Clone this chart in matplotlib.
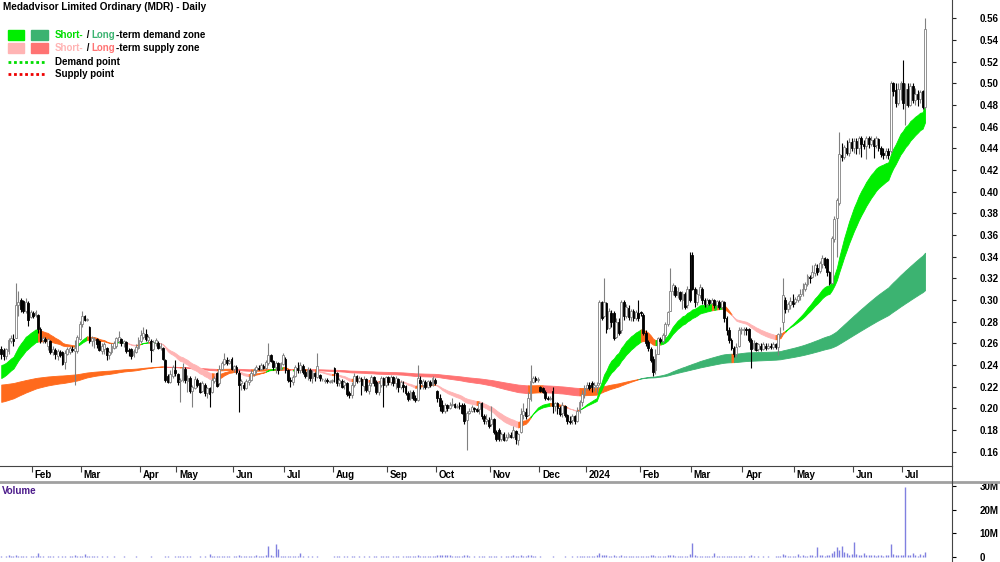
import numpy as np
import matplotlib
matplotlib.use("Agg")
import matplotlib.pyplot as plt
from matplotlib.lines import Line2D
from matplotlib.patches import Rectangle

plt.rcParams['font.family'] = ['Liberation Sans', 'DejaVu Sans']

# months shown on the x axis (first one is the partial Jan 2023, not labelled)
month_names = ["", "Feb", "Mar", "Apr", "May", "Jun", "Jul", "Aug", "Sep", "Oct",
               "Nov", "Dec", "2024", "Feb", "Mar", "Apr", "May", "Jun", "Jul"]
month_counts = [13, 20, 24, 15, 23, 21, 20, 22, 20, 22, 20, 19, 22, 21, 21, 21, 24, 20, 10]

# daily prices in cents
opens = [
    25.5, 25.4, 24.8, 25.3, 26.2, 26.4, 26.5, 29.5, 30.0, 29.9, 29.0, 29.7, 28.4,
    28.8, 28.6, 28.6, 27.3, 26.3, 26.4, 25.8, 26.2, 25.2, 25.4, 24.8, 25.2, 25.2, 24.3, 25.0, 25.2, 25.5, 25.3, 25.3, 26.4,
    27.8, 28.5, 28.2, 27.5, 26.2, 26.3, 26.4, 26.2, 25.3, 25.5, 25.6, 24.9, 25.2, 25.6, 25.8, 26.2, 26.4, 26.0, 26.1, 25.4, 25.5, 24.9, 25.2, 25.6,
    26.2, 26.6, 26.9, 26.3, 26.2, 25.5, 26.0, 26.0, 25.6, 25.6, 24.5, 23.0, 22.4, 23.0, 23.5,
    23.2, 22.5, 22.6, 23.6, 22.5, 22.8, 21.6, 21.9, 22.6, 22.3, 21.6, 22.2, 21.4, 21.9, 21.5, 22.5, 23.3, 22.3, 23.6, 24.1, 24.5, 24.2, 24.6,
    23.6, 23.8, 23.3, 22.3, 22.2, 21.9, 22.4, 22.6, 23.2, 23.5, 23.7, 23.6, 23.9, 23.7, 24.2, 24.9, 24.4, 23.8, 24.2, 23.6, 24.1,
    24.6, 23.5, 22.6, 22.4, 23.0, 23.7, 23.5, 23.9, 23.4, 23.0, 23.5, 22.8, 23.3, 22.9, 23.1, 22.7, 22.5, 22.6, 22.4, 22.5,
    23.7, 23.3, 22.3, 22.5, 22.2, 22.3, 21.4, 21.2, 22.2, 23.0, 22.5, 22.7, 22.1, 22.7, 21.6, 22.3, 22.9, 22.4, 21.5, 22.2, 22.8, 22.2,
    22.9, 22.4, 22.9, 22.3, 22.7, 22.0, 22.2, 22.1, 21.4, 21.0, 21.5, 21.0, 20.8, 22.6, 22.2, 22.4, 22.0, 22.4, 22.2, 22.6,
    21.6, 21.0, 20.3, 19.8, 20.3, 20.0, 20.3, 20.4, 20.1, 20.3, 20.3, 20.3, 18.9, 19.6, 19.8, 20.0, 19.9, 19.9, 20.5, 19.3, 18.8, 18.9,
    18.6, 19.0, 17.8, 18.0, 17.2, 17.6, 17.1, 17.4, 17.5, 17.4, 17.9, 17.1, 17.8, 19.4, 19.7, 19.4, 20.9, 22.4, 22.8, 22.6,
    22.0, 21.9, 21.5, 21.0, 20.9, 21.6, 20.2, 20.5, 20.0, 19.6, 20.2, 19.4, 18.8, 18.9, 19.3, 18.8, 19.8, 20.6, 21.3,
    21.9, 22.2, 22.3, 22.0, 22.0, 22.3, 29.8, 28.5, 29.7, 27.4, 28.8, 28.8, 26.6, 28.0, 27.2, 29.8, 28.5, 29.3, 28.4, 29.0, 28.3, 28.8,
    28.9, 28.6, 27.0, 26.1, 25.5, 24.6, 23.5, 25.0, 26.4, 26.2, 26.8, 27.8, 29.0, 30.8, 31.2, 30.5, 30.7, 30.0, 30.6, 29.5, 31.0,
    34.2, 31.0, 29.8, 30.5, 31.0, 30.0, 29.6, 30.0, 29.7, 30.0, 29.5, 29.8, 29.4, 29.8, 28.3, 27.2, 26.3, 25.6, 25.0, 25.8, 27.2,
    27.2, 27.3, 27.3, 26.3, 25.6, 26.0, 25.5, 25.8, 25.5, 25.8, 25.6, 25.8, 25.7, 25.9, 25.7, 26.8, 28.0, 30.0, 29.2, 29.5, 29.9,
    29.8, 30.0, 30.4, 30.6, 31.0, 31.5, 32.1, 32.1, 32.5, 33.0, 32.7, 33.3, 33.9, 33.8, 32.6, 31.6, 35.6, 37.6, 39.0, 43.4, 43.2, 44.0, 43.6, 44.6,
    44.0, 44.7, 44.0, 45.0, 44.4, 44.2, 45.0, 44.4, 44.8, 44.3, 44.9, 44.0, 43.6, 43.4, 43.8, 43.8, 50.0, 49.4, 48.2, 49.5,
    50.0, 48.0, 49.5, 48.0, 49.8, 48.5, 49.0, 48.6, 49.3, 47.8,
]
highs = [
    25.8, 25.6, 25.6, 26.5, 26.8, 26.9, 31.6, 30.8, 30.2, 30.0, 30.2, 29.9, 29.1,
    29.0, 29.1, 28.7, 27.5, 26.7, 26.6, 26.5, 26.3, 25.8, 25.6, 25.5, 25.4, 25.3, 25.4, 25.7, 25.8, 25.8, 26.3, 26.8, 28.1,
    29.0, 28.6, 28.3, 27.6, 26.7, 26.6, 26.5, 26.3, 26.0, 26.1, 25.7, 25.3, 26.0, 26.2, 26.6, 27.1, 26.5, 26.3, 26.2, 25.6, 25.6, 25.5, 25.9, 26.6,
    27.2, 27.5, 27.3, 26.8, 26.4, 26.3, 26.5, 26.2, 26.0, 25.7, 24.6, 23.2, 23.5, 24.0, 24.5,
    23.3, 22.8, 24.2, 23.8, 23.1, 23.0, 22.2, 23.0, 22.8, 22.4, 22.5, 22.3, 22.0, 22.0, 22.8, 23.0, 23.4, 24.0, 24.4, 25.1, 24.7, 24.6, 24.7,
    24.0, 24.0, 23.5, 22.7, 22.4, 22.7, 23.0, 23.5, 23.7, 24.0, 24.0, 24.2, 24.1, 24.5, 26.0, 25.0, 24.5, 24.4, 24.3, 24.3, 25.1,
    24.7, 23.6, 22.9, 23.1, 24.0, 24.3, 24.3, 24.1, 23.6, 23.8, 23.7, 23.5, 23.4, 25.1, 23.2, 22.8, 22.8, 22.8, 22.6, 22.7,
    23.8, 23.4, 22.8, 22.7, 22.6, 22.4, 21.6, 22.4, 23.3, 23.1, 23.0, 22.9, 23.0, 22.8, 22.4, 23.1, 23.0, 22.6, 22.5, 23.0, 22.9, 23.0,
    23.0, 23.1, 23.0, 23.0, 22.8, 22.6, 22.5, 22.2, 21.6, 21.7, 21.7, 21.2, 24.0, 23.0, 22.7, 22.6, 22.6, 22.6, 23.0, 22.8,
    21.7, 21.3, 20.8, 20.5, 20.4, 20.6, 21.0, 20.5, 20.4, 20.6, 20.5, 20.5, 19.8, 20.0, 20.3, 20.1, 20.0, 20.6, 20.6, 19.5, 19.5, 19.2,
    20.2, 19.1, 18.0, 18.2, 17.8, 17.8, 17.6, 17.8, 17.8, 18.4, 18.0, 17.7, 20.0, 20.5, 20.0, 21.5, 24.0, 23.0, 23.0, 22.9,
    22.1, 22.0, 21.7, 21.1, 21.1, 22.0, 20.6, 20.6, 20.2, 20.6, 20.3, 19.5, 19.3, 19.5, 19.4, 20.1, 20.8, 21.7, 22.2,
    22.4, 22.4, 22.5, 22.4, 22.4, 30.0, 29.9, 32.0, 29.8, 29.3, 29.1, 29.0, 28.3, 28.3, 30.0, 30.0, 29.6, 29.5, 29.2, 29.2, 29.1, 30.0,
    29.0, 28.8, 27.2, 26.3, 25.7, 24.8, 25.5, 26.6, 26.6, 27.0, 28.0, 29.0, 33.0, 31.6, 31.4, 31.2, 30.8, 30.8, 30.7, 31.3, 34.4,
    34.4, 31.2, 31.0, 31.5, 31.2, 30.2, 30.2, 30.1, 30.2, 30.1, 30.0, 30.0, 30.0, 29.9, 28.5, 27.5, 26.5, 25.8, 26.0, 27.5, 27.5,
    27.5, 27.5, 27.4, 26.5, 26.3, 26.1, 26.0, 26.0, 26.1, 26.0, 26.0, 26.0, 26.1, 26.0, 27.0, 27.5, 32.0, 30.3, 29.8, 30.3, 30.6,
    30.3, 30.6, 31.0, 31.6, 31.7, 32.4, 32.3, 33.2, 33.4, 33.3, 33.6, 34.2, 34.0, 33.9, 32.7, 35.9, 37.8, 39.4, 45.5, 44.5, 44.3, 44.8, 45.0, 45.0,
    45.0, 45.0, 45.1, 45.1, 44.8, 45.1, 45.1, 45.1, 45.0, 45.1, 45.0, 44.2, 44.0, 44.0, 44.0, 50.2, 50.1, 50.0, 50.0, 50.2,
    52.2, 50.0, 50.0, 50.0, 50.0, 49.6, 49.4, 49.4, 49.4, 56.0,
]
lows = [
    24.6, 24.5, 24.6, 25.0, 26.0, 25.8, 26.5, 28.5, 28.9, 28.8, 28.8, 27.6, 28.3,
    28.3, 28.4, 27.0, 26.0, 26.0, 26.0, 25.4, 25.0, 24.9, 24.6, 24.5, 24.7, 24.0, 23.6, 24.9, 25.0, 25.2, 22.2, 25.1, 26.3,
    27.5, 28.1, 28.1, 26.0, 25.8, 25.6, 25.6, 25.3, 25.0, 25.0, 24.5, 24.6, 25.0, 25.5, 25.6, 26.0, 25.8, 25.7, 25.1, 24.8, 24.6, 24.7, 25.1, 25.5,
    26.0, 26.4, 26.2, 26.0, 24.3, 25.3, 25.8, 25.5, 25.4, 24.5, 22.4, 22.3, 22.3, 22.8, 23.0,
    22.2, 20.6, 22.4, 22.3, 21.5, 21.4, 20.1, 21.8, 22.0, 21.4, 21.5, 21.1, 21.0, 20.1, 21.4, 22.3, 22.0, 22.2, 23.5, 24.0, 24.0, 24.1, 23.5,
    23.4, 23.2, 19.7, 21.7, 21.7, 21.8, 22.2, 22.5, 23.0, 23.3, 23.5, 23.5, 23.6, 23.6, 24.0, 24.3, 23.5, 23.3, 23.2, 23.5, 24.0,
    23.3, 22.4, 22.0, 22.2, 22.9, 23.3, 23.3, 23.2, 22.8, 22.6, 22.5, 22.3, 22.5, 22.8, 22.5, 22.5, 22.3, 22.3, 22.3, 22.3,
    22.4, 22.1, 22.1, 21.9, 21.8, 21.1, 21.0, 21.0, 22.0, 22.3, 22.4, 21.2, 21.6, 21.5, 21.3, 22.1, 22.1, 21.3, 21.2, 22.0, 20.1, 22.0,
    22.2, 22.2, 22.1, 21.8, 21.5, 21.8, 21.5, 21.2, 20.7, 20.8, 20.8, 20.6, 20.7, 21.8, 21.8, 21.8, 21.9, 22.0, 22.1, 22.2,
    20.6, 19.8, 19.6, 19.6, 19.8, 19.9, 20.2, 20.0, 20.0, 19.9, 19.5, 18.6, 16.2, 19.5, 19.7, 19.7, 19.7, 19.5, 19.0, 18.6, 18.6, 18.2,
    18.4, 17.6, 17.0, 17.0, 17.0, 17.0, 17.0, 17.3, 17.3, 17.3, 16.7, 16.6, 17.7, 19.0, 19.0, 19.3, 20.7, 22.3, 22.4, 22.4,
    21.5, 21.4, 20.8, 20.8, 20.8, 19.6, 19.8, 19.5, 19.3, 19.2, 19.2, 18.6, 18.6, 18.6, 18.6, 18.7, 19.6, 20.2, 21.0,
    21.7, 21.7, 21.5, 21.6, 21.4, 22.2, 28.2, 28.4, 27.0, 27.3, 27.5, 26.3, 26.5, 26.8, 27.0, 28.2, 28.3, 28.2, 28.1, 28.1, 28.2, 28.1,
    28.5, 26.8, 25.8, 25.3, 24.3, 23.0, 23.2, 25.0, 26.0, 26.0, 26.5, 27.6, 29.0, 30.5, 30.3, 30.2, 29.9, 29.2, 29.2, 29.3, 29.8,
    30.9, 29.4, 29.5, 30.2, 29.6, 29.4, 29.4, 29.5, 29.6, 29.3, 29.3, 29.2, 29.2, 28.0, 26.8, 26.0, 25.4, 24.7, 24.7, 25.7, 26.9,
    26.8, 26.8, 26.1, 23.7, 25.4, 25.3, 25.3, 25.3, 25.4, 25.4, 25.5, 25.5, 25.5, 25.5, 24.9, 26.6, 27.2, 28.8, 28.9, 29.2, 29.4,
    29.6, 29.8, 30.0, 30.4, 30.8, 31.3, 31.6, 32.0, 32.2, 32.3, 32.5, 33.0, 33.0, 32.2, 31.4, 31.5, 35.4, 34.0, 38.8, 42.8, 43.0, 43.4, 43.3, 43.8,
    43.6, 43.5, 43.5, 43.2, 43.9, 43.0, 44.0, 44.2, 43.1, 44.0, 43.8, 43.2, 43.0, 43.1, 43.0, 43.6, 48.8, 47.8, 48.0, 48.5,
    47.6, 46.2, 47.8, 47.9, 48.2, 48.0, 47.9, 48.2, 47.6, 47.6,
]
closes = [
    25.0, 24.8, 25.5, 26.3, 26.5, 26.2, 29.5, 29.8, 29.2, 29.0, 29.8, 28.2, 28.9,
    28.5, 28.9, 27.3, 26.2, 26.5, 26.2, 26.4, 25.2, 25.5, 25.0, 25.3, 24.9, 24.1, 25.1, 25.5, 25.6, 25.4, 25.6, 26.6, 27.8,
    28.5, 28.2, 28.2, 26.2, 26.5, 26.4, 25.9, 25.4, 25.8, 25.9, 24.9, 25.2, 25.8, 26.0, 26.5, 26.6, 26.0, 26.2, 25.3, 25.3, 24.8, 25.3, 25.7, 26.3,
    26.8, 27.0, 26.4, 26.6, 25.4, 26.1, 26.3, 25.6, 25.8, 24.6, 22.6, 22.4, 23.2, 23.8, 23.3,
    22.4, 22.6, 23.8, 22.6, 22.8, 21.6, 22.0, 22.7, 22.2, 21.5, 22.3, 21.4, 21.9, 21.3, 22.6, 22.8, 22.1, 23.6, 24.2, 24.6, 24.2, 24.4, 23.6,
    23.9, 23.4, 22.2, 22.5, 21.9, 22.5, 22.6, 23.3, 23.5, 23.8, 23.6, 24.0, 23.7, 24.3, 24.9, 24.4, 23.8, 24.2, 23.5, 24.2, 24.9,
    23.5, 22.6, 22.5, 22.9, 23.8, 23.5, 24.0, 23.4, 23.0, 23.6, 22.8, 23.3, 23.0, 23.9, 22.8, 22.7, 22.6, 22.5, 22.5, 22.6,
    23.3, 22.3, 22.6, 22.0, 22.4, 21.3, 21.2, 22.2, 23.0, 22.5, 22.8, 22.2, 22.7, 21.7, 22.2, 22.9, 22.3, 21.5, 22.3, 22.8, 22.2, 22.9,
    22.4, 22.9, 22.3, 22.8, 22.0, 22.4, 22.0, 21.4, 20.9, 21.5, 21.0, 20.8, 22.8, 22.3, 22.5, 22.0, 22.5, 22.2, 22.8, 22.3,
    21.0, 20.2, 19.8, 20.3, 20.0, 20.3, 20.4, 20.1, 20.2, 20.2, 19.6, 18.8, 19.6, 19.8, 20.1, 19.9, 19.8, 20.5, 19.3, 18.8, 19.0, 18.4,
    19.0, 17.8, 17.2, 17.2, 17.6, 17.1, 17.4, 17.6, 17.4, 18.0, 17.2, 17.6, 19.5, 19.8, 19.3, 21.0, 22.5, 22.8, 22.6, 22.7,
    21.6, 21.5, 21.0, 20.9, 21.0, 20.2, 20.5, 20.0, 19.5, 20.3, 19.4, 18.8, 18.7, 19.3, 18.8, 19.8, 20.6, 21.3, 21.9,
    22.2, 21.9, 22.0, 22.2, 22.2, 29.8, 28.3, 29.8, 27.3, 29.0, 28.0, 26.5, 28.0, 27.0, 29.8, 28.5, 29.4, 28.4, 29.0, 28.3, 28.9, 28.3,
    28.8, 27.0, 26.0, 25.6, 24.5, 23.4, 25.0, 26.5, 26.2, 26.8, 27.8, 28.9, 30.8, 31.4, 30.5, 30.8, 30.1, 30.6, 29.4, 31.0, 30.0,
    31.0, 29.8, 30.6, 31.2, 30.0, 29.6, 30.0, 29.7, 30.0, 29.5, 29.9, 29.4, 29.9, 28.3, 27.2, 26.3, 25.6, 25.0, 25.7, 27.2, 27.3,
    27.3, 27.2, 26.3, 25.5, 26.0, 25.4, 25.9, 25.5, 25.9, 25.6, 25.8, 25.7, 25.9, 25.7, 26.9, 27.0, 30.5, 29.2, 29.6, 29.9, 29.6,
    30.1, 30.4, 30.6, 31.0, 31.5, 32.2, 32.0, 32.6, 33.2, 32.6, 33.4, 33.9, 33.2, 32.6, 31.6, 35.7, 37.5, 39.2, 43.5, 43.2, 44.1, 43.6, 44.6, 44.0,
    44.7, 44.0, 45.0, 44.4, 44.2, 45.0, 44.4, 44.8, 44.2, 45.0, 44.0, 43.5, 43.4, 43.8, 43.4, 50.0, 49.3, 48.2, 49.5, 50.0,
    48.2, 49.5, 48.0, 49.8, 48.5, 49.0, 48.6, 49.2, 47.8, 55.0,
]

# daily volume in millions of shares
volume_m = [
    0.3, 0.2, 0.4, 0.8, 0.3, 0.6, 0.9, 0.5, 0.3, 0.4, 0.3, 0.2, 0.3,
    0.4, 0.3, 1.7, 0.5, 0.3, 0.2, 0.4, 0.3, 0.5, 0.2, 0.3, 0.2, 0.4, 0.3, 0.2, 0.3, 0.5, 0.9, 0.4, 0.6,
    0.5, 1.4, 0.6, 0.4, 0.3, 0.5, 0.3, 0.2, 0.3, 0.2, 0.4, 0.2, 0.2, 0.3, 0.2, 0.1, 0.2, 0.3, 0.2, 0.1, 0.2, 0.2, 0.3, 0.2,
    0.2, 0.1, 0.2, 0.1, 0.3, 0.2, 0.1, 0.2, 0.1, 0.2, 0.4, 0.3, 0.2, 0.2, 0.3,
    0.5, 0.3, 0.4, 0.2, 0.3, 0.4, 0.2, 0.1, 0.2, 0.3, 0.2, 0.3, 0.2, 1.3, 0.4, 0.3, 0.6, 0.4, 0.3, 0.5, 0.4, 0.3, 0.2,
    0.3, 0.4, 0.8, 0.4, 0.3, 0.5, 0.4, 0.6, 0.4, 0.9, 0.5, 0.4, 0.6, 0.8, 4.5, 1.0, 0.6, 5.6, 3.3, 0.5, 0.4,
    0.5, 0.3, 0.4, 0.3, 0.3, 0.5, 1.6, 0.3, 0.2, 0.3, 0.2, 0.3, 0.2, 0.4, 0.2, 0.1, 0.2, 0.1, 0.2, 0.2,
    0.4, 0.3, 0.3, 0.2, 0.4, 0.3, 0.2, 0.3, 0.4, 0.2, 0.3, 0.2, 0.3, 0.2, 0.3, 0.2, 0.4, 0.3, 0.2, 0.3, 0.4, 0.3,
    0.3, 0.2, 0.3, 0.4, 0.3, 0.2, 0.3, 0.5, 0.4, 0.3, 0.4, 0.3, 1.0, 0.6, 0.5, 0.4, 0.3, 0.3, 0.4, 0.3,
    0.8, 1.0, 0.8, 0.9, 0.7, 0.8, 0.6, 0.5, 0.6, 0.4, 0.5, 0.8, 0.9, 0.3, 0.2, 0.3, 0.2, 0.3, 0.4, 0.3, 0.2, 0.3,
    0.3, 0.4, 0.3, 0.2, 0.3, 0.2, 0.3, 0.6, 0.5, 0.7, 0.5, 0.6, 0.7, 0.6, 0.5, 0.7, 0.9, 0.5, 0.3, 0.2,
    0.3, 0.2, 0.2, 0.1, 0.2, 0.3, 0.2, 0.2, 0.1, 0.2, 0.3, 0.2, 0.2, 0.3, 0.2, 0.4, 0.5, 0.6, 0.5,
    0.6, 0.4, 0.5, 0.4, 0.7, 1.5, 1.0, 0.8, 0.7, 0.6, 0.5, 0.7, 0.6, 0.4, 0.9, 0.6, 0.5, 0.4, 0.5, 0.3, 0.4, 0.5,
    0.4, 0.5, 0.6, 0.4, 0.7, 0.8, 0.6, 0.5, 0.4, 0.5, 0.6, 0.8, 1.0, 0.7, 0.5, 0.4, 0.5, 0.4, 0.3, 0.6, 1.2,
    6.0, 1.0, 0.6, 0.5, 0.4, 0.3, 0.4, 0.3, 0.3, 1.6, 0.4, 0.3, 0.3, 0.5, 0.6, 0.4, 0.5, 0.4, 0.3, 0.4, 0.3,
    0.3, 0.2, 0.5, 0.8, 0.3, 0.2, 0.3, 0.2, 0.3, 0.2, 0.3, 0.2, 0.2, 0.3, 0.5, 0.4, 1.4, 0.7, 0.5, 0.4, 0.6,
    0.5, 1.2, 0.6, 0.7, 0.5, 0.6, 0.8, 0.7, 0.6, 4.3, 0.8, 0.7, 0.6, 0.9, 0.8, 1.5, 2.5, 4.2, 3.0, 4.7, 2.0, 1.5, 1.0, 1.2,
    6.4, 1.2, 1.0, 0.8, 1.5, 0.9, 0.7, 1.0, 0.8, 0.6, 0.8, 0.7, 0.6, 1.0, 0.8, 5.4, 1.2, 1.0, 0.8, 1.0,
    0.9, 29.8, 1.0, 0.8, 1.5, 0.7, 0.6, 1.2, 0.9, 2.0,
]

# zone settings: (fast period, slow period) and starting levels in cents
short_periods = (20, 30)
short_start = (24.0, 22.8)
long_periods = (155, 255)
long_start = (20.6, 22.2)

W, H = 1000, 562
fig = plt.figure(figsize=(W / 100, H / 100), dpi=100)
ax = fig.add_axes([0, 1 - 466 / H, 952 / W, 466 / H])
axv = fig.add_axes([0, 0, 952 / W, (H - 483) / H])

o = np.array(opens) / 100
h = np.array(highs) / 100
l = np.array(lows) / 100
c = np.array(closes) / 100
n = len(c)
x = np.arange(n)


def ema(vals, period, start):
    a = 2.0 / (period + 1)
    out = [start]
    for v in vals[1:]:
        out.append(out[-1] + a * (v - out[-1]))
    return np.array(out)


def draw_zone(fast, slow, up_col, down_col, mid_col):
    cols = [None]
    for i in range(1, n):
        rising = fast[i] > fast[i - 1]
        if fast[i] >= slow[i] and rising:
            cols.append(up_col)
        elif fast[i] < slow[i] and not rising:
            cols.append(down_col)
        else:
            cols.append(mid_col)
    cols[0] = cols[1]
    start = 0
    for i in range(1, n + 1):
        if i == n or cols[i] != cols[start]:
            seg = slice(max(start - 1, 0), i)
            ax.fill_between(x[seg], fast[seg], slow[seg], color=cols[start],
                            linewidth=0.6, edgecolor=cols[start], zorder=1)
            start = i


orange = '#ff6a1c'
lf = ema(c, long_periods[0], long_start[0] / 100)
ls = ema(c, long_periods[1], long_start[1] / 100)
draw_zone(lf, ls, '#3cb371', '#ff7373', orange)
sf = ema(c, short_periods[0], short_start[0] / 100)
ss = ema(c, short_periods[1], short_start[1] / 100)
draw_zone(sf, ss, '#00ee00', '#ffb4b4', orange)

# candles
up = c >= o
wick_col = np.where(up, '#808080', '#000000')
ax.vlines(x, l, h, colors=wick_col, linewidth=0.8, zorder=3)
body_lo = np.minimum(o, c)
body_h = np.maximum(np.abs(c - o), 0.0004)
ax.bar(x, body_h, bottom=body_lo, width=0.75,
       color=np.where(up, '#ffffff', '#000000'),
       edgecolor=np.where(up, '#808080', '#000000'), linewidth=0.6, zorder=4)

ax.set_xlim(-0.5, 388)
ax.set_ylim(0.1468, 0.577)
yt = np.arange(0.16, 0.5601, 0.02)
ax.set_yticks(yt)
ax.set_yticklabels([f"{v:.2f}" for v in yt])
ax.yaxis.tick_right()
ax.tick_params(axis='y', direction='out', length=3, pad=17, labelsize=7, colors='#222222')
for t in ax.get_yticklabels():
    t.set_fontweight('bold')
    t.set_color('black')

starts = np.cumsum([0] + month_counts[:-1])
ticks = [s - 0.5 for s, m in zip(starts, month_names) if m]
labels = [m for m in month_names if m]
ax.set_xticks(ticks)
ax.set_xticklabels([])
ax.tick_params(axis='x', direction='out', length=4, color='#444444')
for tx, lab in zip(ticks, labels):
    ax.annotate(lab, xy=(tx, 0), xycoords=('data', 'axes fraction'),
                xytext=(2, -6.5), textcoords='offset points', ha='left', va='center',
                fontsize=7, fontweight='bold')
for side in ['top', 'left']:
    ax.spines[side].set_visible(False)
ax.spines['bottom'].set_color('#444444')
ax.spines['right'].set_color('#444444')

# volume panel
axv.vlines(x, 0, volume_m, colors='#8080e0', linewidth=1.0)
axv.set_xlim(-0.5, 388)
axv.set_ylim(-2.1, 31.3)
axv.set_yticks([0, 10, 20, 30])
axv.set_yticklabels(['0', '10M', '20M', '30M'])
axv.yaxis.tick_right()
axv.tick_params(axis='y', direction='out', length=3, pad=17, labelsize=7)
for t in axv.get_yticklabels():
    t.set_fontweight('bold')
axv.set_xticks([])
for side in ['top', 'left', 'bottom']:
    axv.spines[side].set_visible(False)
axv.spines['right'].set_color('#444444')
axv.text(2 / 952, 1 - 8 / 79, 'Volume', transform=axv.transAxes, fontsize=7,
         fontweight='bold', color='#4b1a8a', va='center')

# frame pieces between panels
fig.add_artist(Line2D([0, 1], [1 - 481.5 / H] * 2, color='#a0a0a0', linewidth=2.0))
fig.add_artist(Line2D([952 / W] * 2, [1 - 483 / H, 1 - 466 / H], color='#444444', linewidth=0.8))

# title and legend
fig.text(3 / W, 1 - 7 / H, 'Medadvisor Limited Ordinary (MDR) - Daily', fontsize=7.2,
         fontweight='bold', va='center')

renderer = fig.canvas.get_renderer()


def color_text(x_px, y_px, parts):
    for s, col in parts:
        t = fig.text(x_px / W, 1 - y_px / H, s, color=col, fontsize=7,
                     fontweight='bold', va='center', ha='left')
        x_px += t.get_window_extent(renderer).width


for (x0, x1), yc, col in [((8, 24), 35, '#00ee00'), ((31, 48), 35, '#3cb371'),
                          ((8, 24), 48, '#ffb4b4'), ((31, 48), 48, '#ff7373')]:
    fig.add_artist(Rectangle((x0 / W, 1 - (yc + 5) / H), (x1 - x0) / W, 10 / H,
                             transform=fig.transFigure, color=col))
fig.add_artist(Line2D([8 / W, 46 / W], [1 - 62 / H] * 2, color='#00dd00', linewidth=2, linestyle=(0, (1, 1))))
fig.add_artist(Line2D([8 / W, 46 / W], [1 - 74 / H] * 2, color='#ee0000', linewidth=2, linestyle=(0, (1, 1))))
color_text(55, 35, [('Short-', '#00dd00'), (' / ', 'black'), ('Long', '#3cb371'), ('-term demand zone', 'black')])
color_text(55, 48, [('Short-', '#ffb4b4'), (' / ', 'black'), ('Long', '#ff7373'), ('-term supply zone', 'black')])
color_text(55, 62, [('Demand point', 'black')])
color_text(55, 74, [('Supply point', 'black')])

fig.savefig('out.png', dpi=100)
